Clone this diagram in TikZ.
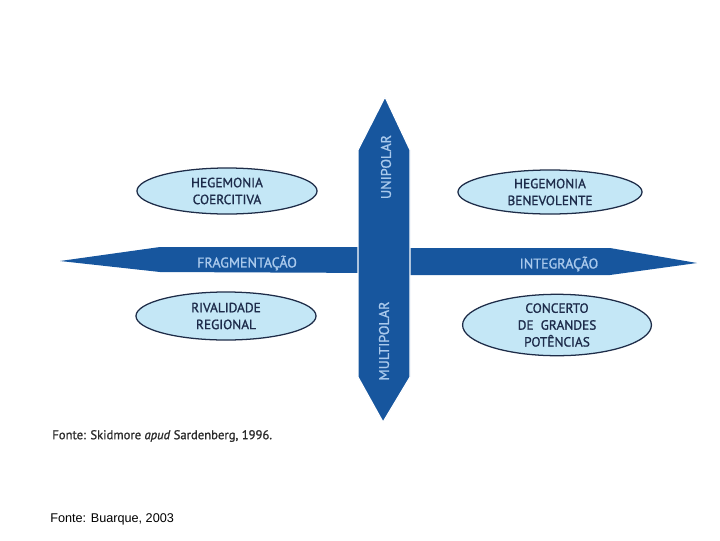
\documentclass[tikz,border=0pt]{standalone}
\usepackage{fontspec}
\usepackage{tikz}
\usetikzlibrary{shapes.geometric}
\newfontfamily\figfont{PT Sans}[FakeBold=1.2]
\newfontfamily\notefont{Liberation Sans}
\definecolor{barblue}  {HTML}{17569E}
\definecolor{bartext}  {HTML}{A9C9EC}
\definecolor{ovalfill} {HTML}{C4E7F6}
\definecolor{ovalline} {HTML}{1E2C48}
\definecolor{ovaltext} {HTML}{1D2B4A}
\definecolor{notegray} {HTML}{2B2B2B}

\tikzset{
  oval/.style={ellipse, draw=ovalline, line width=0.9pt, fill=ovalfill, text=ovaltext,
               font=\figfont\fontsize{9.5}{12}\selectfont, align=center, inner sep=0pt,
               minimum width=4.5cm, minimum height=1.15cm},
  barlabel/.style={text=bartext, font=\figfont\fontsize{10}{11}\selectfont, inner sep=0pt},
  barshape/.style={fill=barblue}
}

\begin{document}
\begin{tikzpicture}[x=0.025cm, y=-0.025cm]
  \useasboundingbox (0,0) rectangle (720,540);

  % horizontal axis
  \fill[barshape] (60,261) -- (160,247) -- (384,247) -- (384,273) -- (160,272) -- cycle;
  \fill[barshape] (384,248) -- (610,248) -- (697,263) -- (610,275) -- (384,275) -- cycle;
  % vertical axis
  \filldraw[barshape, draw=white, line width=0.8pt]
    (385,97) -- (410,150) -- (410,377) -- (383,422) -- (358,377) -- (358,150) -- cycle;

  \node[barlabel] (frag) at (247,263) {FRAGMENTAÇÃO};
  \node[barlabel] (integ) at (559,264) {INTEGRAÇÃO};
  \node[barlabel, rotate=90] (unip) at (386,167) {UNIPOLAR};
  \node[barlabel, rotate=90] (multip) at (384,341) {MULTIPOLAR};

  % quadrants
  \node[oval] (coerc) at (227,191) {HEGEMONIA\\COERCITIVA};
  \node[oval, minimum width=4.6cm, minimum height=1.1cm] (benev) at (550,192) {HEGEMONIA\\BENEVOLENTE};
  \node[oval, minimum height=1.2cm] (rival) at (226,316) {RIVALIDADE\\REGIONAL};
  \node[oval, minimum width=4.72cm, minimum height=1.32cm] (concerto) at (557,325) {CONCERTO\\DE\ \ GRANDES\\POTÊNCIAS};

  % sources
  \node[anchor=west, text=notegray, font=\figfont\fontsize{9}{11}\selectfont, inner sep=0pt]
    (fonte) at (52,436) {Fonte: Skidmore \textit{apud} Sardenberg, 1996.};
  \node[anchor=west, font=\notefont\fontsize{9}{11}\selectfont, inner sep=0pt]
    (buarque) at (50,519) {Fonte: Buarque, 2003};
\end{tikzpicture}
\end{document}
